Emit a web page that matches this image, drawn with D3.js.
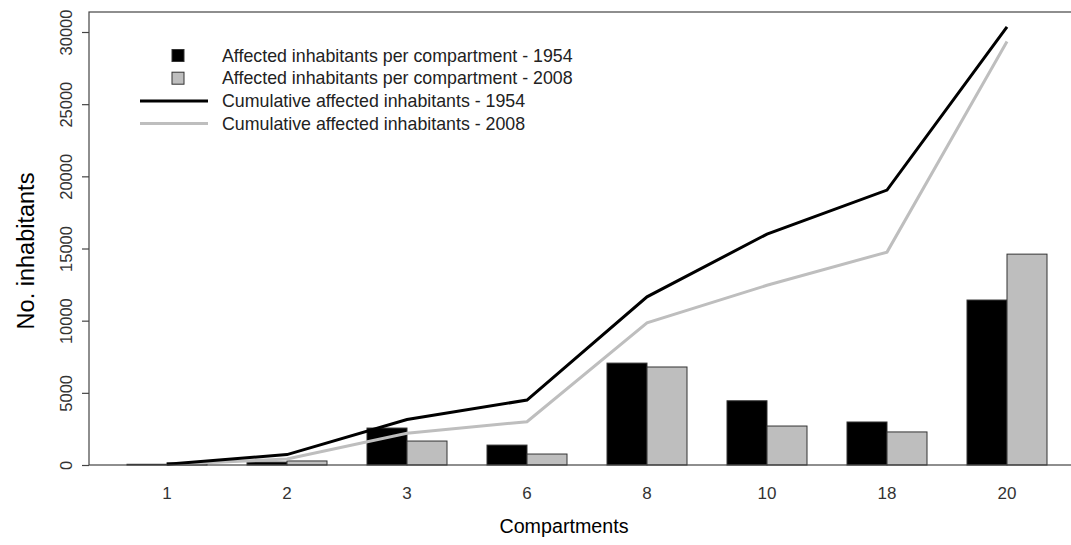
<!DOCTYPE html>
<html>
<head>
<meta charset="utf-8">
<script src="https://cdn.jsdelivr.net/npm/d3@7"></script>
<style>
  body { margin: 0; background: #fff; }
  text { font-family: "Liberation Sans", Arial, sans-serif; }
</style>
</head>
<body>
<script>
const width = 1071;
const height = 545;

// data
const compartments = ['1', '2', '3', '6', '8', '10', '18', '20'];
const years = ['1954', '2008'];
const perComp1954 = [50, 200, 2560, 1380, 7060, 4450, 2980, 11430];
const perComp2008 = [150, 280, 1660, 760, 6790, 2700, 2290, 14610];
const cum1954 = [50, 720, 3150, 4500, 11650, 16000, 19050, 30350];
const cum2008 = [30, 420, 2200, 3000, 9850, 12450, 14750, 29350];
const yTicks = [0, 5000, 10000, 15000, 20000, 25000, 30000];

const barFill = {'1954': '#000000', '2008': '#bebebe'};
const lineColor = {'1954': '#000000', '2008': '#bebebe'};

const svg = d3.select('body').append('svg')
    .attr('width', width)
    .attr('height', height);

const plot = {left: 89, right: 1084, top: 12, bottom: 465};

const x = d3.scaleBand()
    .domain(compartments)
    .range([107, 1067])
    .paddingInner(1 / 3)
    .paddingOuter(1 / 6);

const xInner = d3.scaleBand()
    .domain(years)
    .range([0, x.bandwidth()]);

const y = d3.scaleLinear()
    .domain([0, 31386])
    .range([plot.bottom, plot.top]);

// bars
let barData = [];
compartments.forEach(function (c, i) {
    barData.push({c: c, year: '1954', v: perComp1954[i]});
    barData.push({c: c, year: '2008', v: perComp2008[i]});
});

svg.append('g')
    .selectAll('rect')
    .data(barData)
    .enter().append('rect')
    .attr('x', d => x(d.c) + xInner(d.year))
    .attr('y', d => y(d.v))
    .attr('width', xInner.bandwidth())
    .attr('height', d => y(0) - y(d.v))
    .attr('fill', d => barFill[d.year])
    .attr('stroke', '#333')
    .attr('stroke-width', 1);

// cumulative lines
const line = d3.line()
    .x((d, i) => x(compartments[i]) + x.bandwidth() / 2)
    .y(d => y(d));

svg.append('path')
    .datum(cum2008)
    .attr('d', line)
    .attr('fill', 'none')
    .attr('stroke', lineColor['2008'])
    .attr('stroke-width', 3);

svg.append('path')
    .datum(cum1954)
    .attr('d', line)
    .attr('fill', 'none')
    .attr('stroke', lineColor['1954'])
    .attr('stroke-width', 3);

// box
svg.append('rect')
    .attr('x', plot.left)
    .attr('y', plot.top)
    .attr('width', plot.right - plot.left)
    .attr('height', plot.bottom - plot.top)
    .attr('fill', 'none')
    .attr('stroke', '#444')
    .attr('stroke-width', 1.2);

// y axis
const yAxis = svg.append('g')
    .attr('transform', `translate(${plot.left},0)`)
    .call(d3.axisLeft(y).tickValues(yTicks).tickFormat(d3.format('d')).tickSize(7).tickSizeOuter(0));
yAxis.select('.domain').remove();
yAxis.selectAll('.tick line').attr('stroke', '#444').attr('stroke-width', 1.2);
yAxis.selectAll('.tick text')
    .attr('x', null).attr('dy', null)
    .attr('transform', 'translate(-17,0) rotate(-90)')
    .attr('text-anchor', 'middle')
    .attr('fill', '#333')
    .style('font-size', '16.5px');

// x axis labels (no ticks)
const xAxis = svg.append('g')
    .attr('transform', `translate(0,${plot.bottom})`)
    .call(d3.axisBottom(x).tickSize(0));
xAxis.select('.domain').remove();
xAxis.selectAll('.tick text')
    .attr('y', 33.5).attr('dy', null)
    .attr('fill', '#333')
    .style('font-size', '17px');

// axis titles
svg.append('text')
    .attr('x', 564)
    .attr('y', 533)
    .attr('text-anchor', 'middle')
    .style('font-size', '19.7px')
    .text('Compartments');

svg.append('text')
    .attr('transform', 'translate(34,251) rotate(-90)')
    .attr('text-anchor', 'middle')
    .style('font-size', '23.5px')
    .text('No. inhabitants');

// legend
const legendRows = [
    {label: 'Affected inhabitants per compartment - 1954', type: 'box', color: barFill['1954']},
    {label: 'Affected inhabitants per compartment - 2008', type: 'box', color: barFill['2008']},
    {label: 'Cumulative affected inhabitants - 1954', type: 'line', color: lineColor['1954']},
    {label: 'Cumulative affected inhabitants - 2008', type: 'line', color: lineColor['2008']}
];

const legend = svg.append('g');
const row = legend.selectAll('g')
    .data(legendRows)
    .enter().append('g')
    .attr('transform', (d, i) => `translate(0,${55.5 + i * 22.7})`);

row.filter(d => d.type === 'box').append('rect')
    .attr('x', 172).attr('y', -6)
    .attr('width', 12).attr('height', 12)
    .attr('fill', d => d.color)
    .attr('stroke', '#333');

row.filter(d => d.type === 'line').append('line')
    .attr('x1', 140).attr('x2', 208)
    .attr('y1', 0).attr('y2', 0)
    .attr('stroke', d => d.color)
    .attr('stroke-width', 3);

row.append('text')
    .attr('x', 222)
    .attr('dy', '0.35em')
    .attr('fill', '#222')
    .style('font-size', '17.8px')
    .text(d => d.label);
</script>
</body>
</html>
